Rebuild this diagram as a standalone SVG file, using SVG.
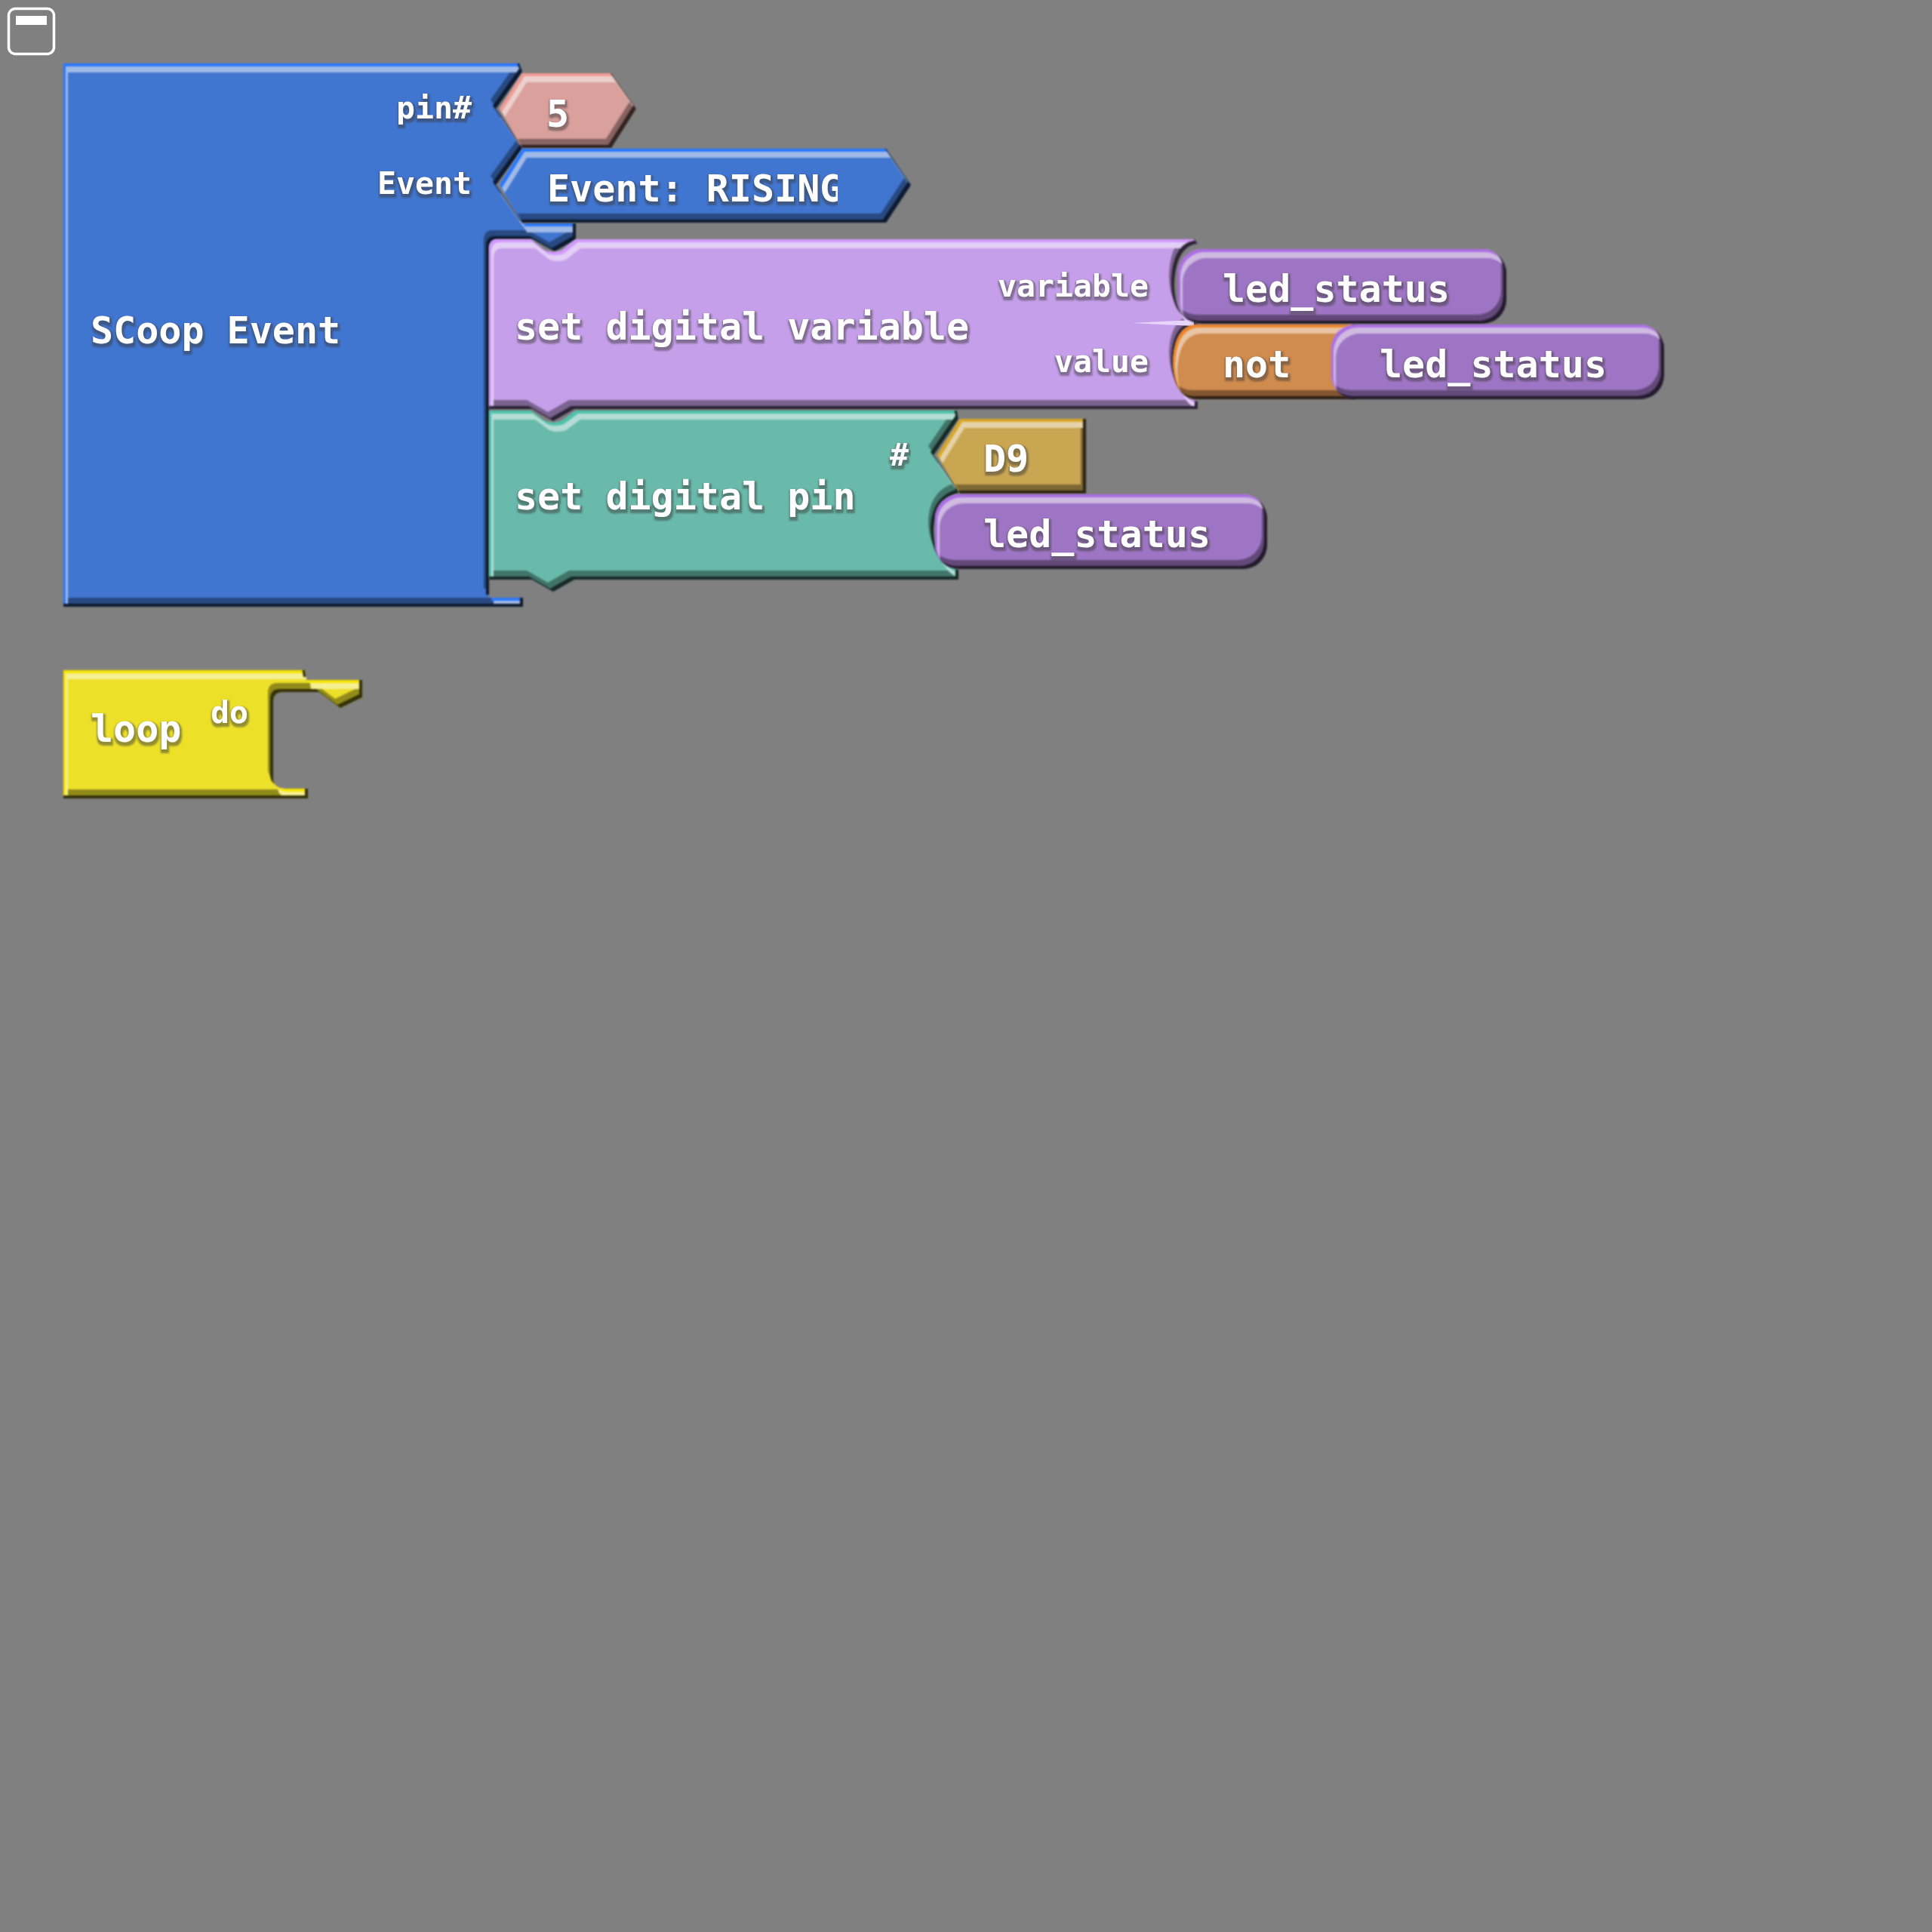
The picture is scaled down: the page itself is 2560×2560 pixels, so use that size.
<svg xmlns="http://www.w3.org/2000/svg" width="2560" height="2560" viewBox="0 0 2560 2560">
<style>
.b{filter:url(#bevel)}
.t{font-family:"DejaVu Sans Mono",monospace;font-weight:bold;fill:#fff;filter:url(#halo)}
.l{font-size:50px}
.s{font-size:41.5px}
.e{text-anchor:end}
</style>
<defs>
<filter id="bevel" x="-5%" y="-5%" width="110%" height="110%" color-interpolation-filters="sRGB">
<feColorMatrix in="SourceGraphic" type="matrix" values=".22 0 0 0 0 0 .22 0 0 0 0 0 .22 0 0 0 0 0 1 0" result="cd"/>
<feColorMatrix in="SourceGraphic" type="matrix" values=".62 0 0 0 0 0 .62 0 0 0 0 0 .62 0 0 0 0 0 1 0" result="cs"/>
<feColorMatrix in="SourceGraphic" type="matrix" values=".5 0 0 0 .5 0 .5 0 0 .5 0 0 .5 0 .5 0 0 0 1 0" result="cl"/>
<feColorMatrix in="SourceGraphic" type="saturate" values="1.5" result="cv"/>
<feOffset in="SourceAlpha" dx="-4" dy="-4" result="o1"/>
<feComposite in="cd" in2="o1" operator="out" result="dark"/>
<feOffset in="SourceAlpha" dx="-7" dy="-12" result="o2"/>
<feComposite in="cs" in2="o2" operator="out" result="shade"/>
<feOffset in="SourceAlpha" dx="6" dy="12" result="o3"/>
<feComposite in="cl" in2="o3" operator="out" result="light"/>
<feOffset in="SourceAlpha" dx="3" dy="4" result="o4"/>
<feComposite in="cv" in2="o4" operator="out" result="sat"/>
<feMerge result="m"><feMergeNode in="SourceGraphic"/><feMergeNode in="shade"/><feMergeNode in="light"/><feMergeNode in="sat"/><feMergeNode in="dark"/></feMerge>
<feGaussianBlur in="m" stdDeviation="1"/>
</filter>
<filter id="halo" x="-10%" y="-30%" width="120%" height="160%" color-interpolation-filters="sRGB">
<feMorphology in="SourceAlpha" operator="dilate" radius="2"/>
<feOffset dx="1" dy="3"/>
<feGaussianBlur stdDeviation=".8" result="d"/>
<feFlood flood-color="#3c3c3c" flood-opacity=".5"/>
<feComposite in2="d" operator="in" result="h"/>
<feMerge><feMergeNode in="h"/><feMergeNode in="SourceGraphic"/></feMerge>
</filter>
<clipPath id="evclip"><rect x="700" y="200" width="410" height="90"/></clipPath>
</defs>
<rect width="2560" height="2560" fill="#808080"/>
<g id="collapse-icon">
<rect x="11.500" y="11.500" width="60" height="60" rx="9" fill="none" stroke="#fff" stroke-width="3.500"/>
<rect x="21" y="21" width="41" height="12" fill="#fff"/>
</g>
<g id="scoop-event">
<path class="b" fill="#4075d0" d="M84,84H688L692,95L657,144L692,195V197L657,245L692,295V296H763V317L735,333L706,317H660Q648,317 648,330V792H693V804H84Z"/>
<text class="t l" x="120" y="455">SCoop Event</text>
<text class="t s e" x="625" y="157">pin#</text>
<text class="t s e" x="625" y="257">Event</text>
</g>
<g id="pin-value">
<path class="b" fill="#d9a09c" d="M662,144L692,97H810L843,144L810,196H692Z"/>
<text class="t l" x="724" y="168">5</text>
</g>
<g id="event-value">
<path class="b" fill="#4075d0" d="M662,245L692,197H1174L1207,245L1174,295H692Z"/>
<g clip-path="url(#evclip)"><text class="t l" x="725" y="267">Event: RISING</text></g>
</g>
<g id="set-digital-pin">
<path class="b" fill="#69baaa" d="M648,544H703L722,558Q733,562 744,558L763,544H1268L1270,555L1237,603L1270,650V653C1247,660 1238,680 1237,703C1238,730 1247,750 1270,755V768H761L733,784L705,768H648Z"/>
<text class="t l" x="682" y="675">set digital pin</text>
<text class="t s" x="1179" y="617">#</text>
</g>
<g id="set-digital-variable">
<path class="b" fill="#c69fea" d="M648,330Q648,317 660,317H703L722,332Q733,336 744,332L763,317H1583L1587,323C1567,325 1557,345 1556,378C1557,410 1567,425 1587,428V430C1567,432 1557,450 1556,480C1557,510 1567,528 1587,532V542H761L733,558L705,542H648Z"/>
<path d="M1500,428L1582,424V432Z" fill="#e8d5fb"/>
<text class="t l" x="682" y="450">set digital variable</text>
<text class="t s e" x="1522" y="393">variable</text>
<text class="t s e" x="1522" y="493">value</text>
</g>
<g id="d9-value">
<path class="b" fill="#c9a652" d="M1242,603L1272,555H1439V654H1272Z"/>
<text class="t l" x="1303" y="625">D9</text>
</g>
<g id="var-led-status-1">
<rect class="b" fill="#9e75c4" x="1561" y="330" width="435" height="99" rx="32"/>
<text class="t l" x="1620" y="400">led_status</text>
</g>
<g id="not-block">
<path class="b" fill="#d08b4e" d="M1587,430H1795V529H1587Q1556,529 1554,480Q1556,430 1587,430Z"/>
<text class="t l" x="1620" y="500">not</text>
</g>
<g id="var-led-status-2">
<rect class="b" fill="#9e75c4" x="1764" y="430" width="441" height="99" rx="32"/>
<text class="t l" x="1828" y="500">led_status</text>
</g>
<g id="var-led-status-3">
<rect class="b" fill="#9e75c4" x="1239" y="655" width="440" height="99" rx="32"/>
<text class="t l" x="1303" y="725">led_status</text>
</g>
<g id="loop-block">
<path class="b" fill="#ece028" d="M84,888H404L406,901H480V924L451,938L423,917H375Q362,917 362,930V1030Q362,1045 378,1045H408V1058H84Z"/>
<text class="t l" x="120" y="983">loop</text>
<text class="t s" x="279" y="958">do</text>
</g>
</svg>
